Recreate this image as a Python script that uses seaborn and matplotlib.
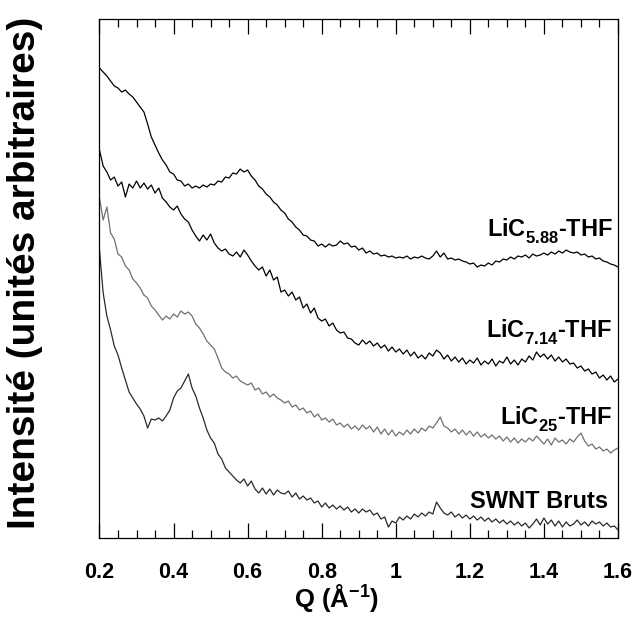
import matplotlib
matplotlib.use("Agg")
import matplotlib.pyplot as plt
import matplotlib._mathtext as mathtext_internals
import seaborn as sns
import numpy as np
import pandas as pd
from matplotlib.ticker import MultipleLocator

sns.set_theme(style="ticks")
plt.rcParams["font.family"] = ["Liberation Sans", "DejaVu Sans"]
plt.rcParams["font.weight"] = "bold"
plt.rcParams["text.color"] = "black"
plt.rcParams["axes.labelcolor"] = "black"
plt.rcParams["xtick.color"] = "black"
plt.rcParams["mathtext.fontset"] = "custom"
plt.rcParams["mathtext.rm"] = "Liberation Sans:bold"
plt.rcParams["mathtext.bf"] = "Liberation Sans:bold"
plt.rcParams["mathtext.it"] = "Liberation Sans:bold"
# subscripts sit lower in the original figure
mathtext_internals.FontConstantsBase.sub1 = 0.55

# -------------------------------------------------------------
# Data, Q from 0.20 to 1.60 in steps of 0.01
# -------------------------------------------------------------
q_start, q_stop, q_step = 0.20, 1.60, 0.01

lic588 = [
    470, 466, 462, 457, 452, 450, 446, 448, 444, 441,
    436, 431, 426, 414, 401, 393, 385, 378, 373, 366,
    364, 358, 357, 352, 354, 350, 352, 350, 353, 351,
    354, 353, 357, 356, 361, 360, 365, 364, 369, 366,
    368, 362, 358, 352, 349, 344, 341, 336, 333, 328,
    325, 319, 316, 311, 308, 303, 302, 298, 297, 292,
    294, 291, 294, 292, 293, 297, 294, 295, 291, 292,
    288, 290, 285, 287, 284, 285, 282, 283, 281, 282,
    280, 281, 280, 282, 279, 281, 280, 282, 280, 279,
    282, 287, 281, 285, 279, 280, 278, 279, 277, 276,
    274, 275, 271, 273, 272, 275, 273, 277, 276, 279,
    278, 281, 279, 282, 281, 283, 280, 284, 282, 283,
    285, 283, 286, 284, 287, 285, 288, 286, 285, 286,
    283, 284, 281, 282, 279, 280, 277, 276, 274, 273,
    271,
]

lic714 = [
    388, 372, 366, 358, 361, 352, 356, 341, 354, 350,
    357, 350, 355, 349, 353, 345, 350, 340, 336, 331,
    328, 332, 324, 319, 316, 308, 302, 297, 303, 298,
    304, 295, 290, 287, 289, 284, 282, 286, 281, 288,
    283, 277, 272, 268, 271, 262, 268, 258, 261, 246,
    248, 242, 246, 238, 241, 230, 234, 225, 230, 220,
    217, 219, 212, 215, 208, 205, 206, 200, 199, 195,
    193, 198, 194, 197, 192, 195, 190, 193, 187, 191,
    186, 189, 184, 188, 182, 186, 180, 183, 179, 185,
    182, 188, 185, 179, 183, 177, 181, 176, 180, 174,
    178, 175, 180, 173, 177, 174, 179, 172, 177, 175,
    181, 174, 178, 173, 179, 176, 182, 178, 186, 181,
    184, 179, 183, 177, 181, 176, 179, 174, 175, 170,
    172, 167, 169, 164, 166, 160, 163, 158, 162, 156,
    159,
]

lic25 = [
    340, 318, 331, 305, 299, 284, 281, 272, 268, 259,
    255, 250, 243, 240, 232, 228, 223, 218, 222, 219,
    224, 221, 227, 224, 226, 222, 214, 210, 204, 197,
    193, 189, 180, 170, 166, 164, 160, 162, 157, 155,
    153, 155, 148, 150, 144, 146, 141, 144, 140, 138,
    135, 137, 131, 133, 128, 130, 125, 127, 121, 124,
    118, 120, 116, 119, 113, 115, 111, 114, 109, 112,
    108, 113, 109, 112, 106, 111, 104, 109, 103, 108,
    102, 106, 103, 108, 104, 109, 105, 110, 107, 112,
    110, 115, 121, 112, 110, 106, 109, 104, 108, 103,
    107, 102, 106, 101, 104, 100, 103, 99, 102, 97,
    101, 96, 100, 95, 99, 96, 100, 97, 102, 98,
    94, 99, 93, 100, 96, 98, 94, 99, 96, 101,
    105, 97, 92, 94, 89, 91, 87, 89, 85, 88,
    90,
]

swnt = [
    288, 245, 222, 208, 192, 183, 170, 158, 146, 140,
    134, 129, 122, 110, 119, 118, 120, 117, 122, 128,
    140, 147, 150, 157, 164, 150, 142, 130, 120, 108,
    100, 95, 84, 79, 70, 66, 62, 58, 55, 59,
    52, 57, 49, 45, 50, 44, 49, 43, 48, 45,
    44, 47, 41, 45, 39, 42, 38, 40, 35, 37,
    31, 35, 30, 33, 29, 32, 28, 31, 26, 29,
    25, 29, 26, 28, 23, 25, 19, 21, 11, 17,
    15, 21, 18, 22, 19, 24, 21, 25, 22, 26,
    24, 36, 30, 25, 23, 26, 21, 24, 20, 23,
    19, 22, 18, 21, 17, 20, 16, 19, 15, 18,
    14, 17, 13, 16, 12, 15, 10, 14, 19, 13,
    20, 14, 18, 12, 17, 11, 16, 12, 14, 18,
    13, 16, 12, 17, 14, 16, 12, 15, 11, 12,
    8,
]

series_names = ["LiC5.88-THF", "LiC7.14-THF", "LiC25-THF", "SWNT Bruts"]
series_values = [lic588, lic714, lic25, swnt]
series_colors = ["black", "black", "#707070", "#2a2a2a"]

label_texts = [r"LiC$_{5.88}$-THF", r"LiC$_{7.14}$-THF", r"LiC$_{25}$-THF", "SWNT Bruts"]
label_x = [1.587, 1.585, 1.585, 1.573]
label_y = [301, 200, 113, 30]

xtick_labels = ["0.2", "0.4", "0.6", "0.8", "1", "1.2", "1.4", "1.6"]

# -------------------------------------------------------------
# Plot
# -------------------------------------------------------------
q = np.round(np.arange(q_start, q_stop + q_step / 2, q_step), 2)
df = pd.concat(
    [pd.DataFrame({"Q": q, "I": vals, "sample": name})
     for name, vals in zip(series_names, series_values)],
    ignore_index=True,
)

fig = plt.figure(figsize=(6.36, 6.28), dpi=100)
ax = fig.add_axes([0.1564, 0.1433, 0.8153, 0.8264])

sns.lineplot(data=df, x="Q", y="I", hue="sample", hue_order=series_names,
             palette=dict(zip(series_names, series_colors)),
             linewidth=0.9, legend=False, ax=ax)

for txt, x, y in zip(label_texts, label_x, label_y):
    ax.text(x, y, txt, ha="right", va="baseline",
            fontsize=17, fontweight="bold", color="black")

ax.set_xlim(0.2, 1.6)
ax.set_ylim(0, 519)
ax.xaxis.set_minor_locator(MultipleLocator(0.05))
ax.set_xticks(np.round(np.arange(0.2, 1.61, 0.2), 1))
ax.set_xticklabels(xtick_labels)
ax.set_yticks([])

ax.tick_params(axis="x", which="major", direction="in", length=11, width=0.9,
               top=True, bottom=True, labelsize=15.5, pad=17)
ax.tick_params(axis="x", which="minor", direction="in", length=5.5, width=0.9,
               top=True, bottom=True)
for lbl in ax.get_xticklabels():
    lbl.set_fontweight("bold")

for side in ["left", "right", "top", "bottom"]:
    ax.spines[side].set_visible(True)
    ax.spines[side].set_color("black")
    ax.spines[side].set_linewidth(0.9)

ax.set_xlabel(r"Q (Å$^{-1}$)", fontsize=18.5, fontweight="bold")
ax.xaxis.set_label_coords(0.458, -0.085)
ax.set_ylabel("Intensité (unités arbitraires)", fontsize=28, fontweight="bold")
ax.yaxis.set_label_coords(-0.108, 0.51)

fig.savefig("out.png", dpi=100)
